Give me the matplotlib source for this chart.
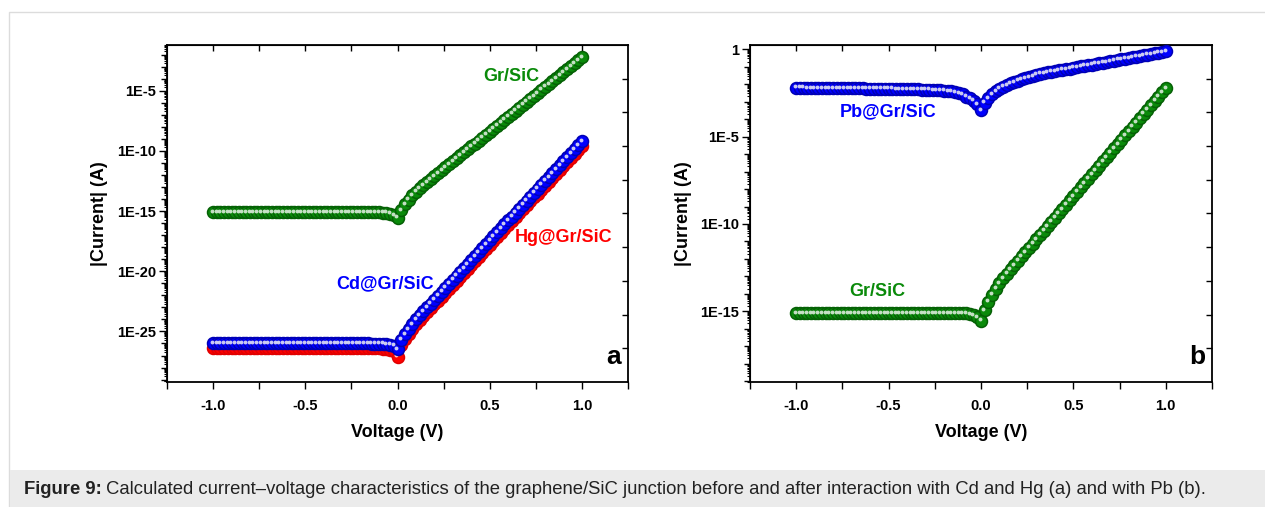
import numpy as np
import matplotlib.pyplot as plt
from matplotlib.ticker import FixedLocator, FuncFormatter, NullFormatter
from matplotlib.transforms import offset_copy
from matplotlib.patches import Rectangle

plt.rcParams['font.family'] = ['Liberation Sans', 'DejaVu Sans']
plt.rcParams['font.weight'] = 'bold'

# bias sweep, -1 V to 1 V in 0.02 V steps
voltage = np.linspace(-1.0, 1.0, 101)

# log10 |I| (A), reverse branch (-1.00 ... -0.02 V)
gr_sic_rev = [
    -15.10, -15.10, -15.10, -15.10, -15.10, -15.10, -15.10, -15.10, -15.10, -15.10,
    -15.10, -15.10, -15.10, -15.10, -15.10, -15.10, -15.10, -15.10, -15.10, -15.10,
    -15.10, -15.10, -15.10, -15.10, -15.10, -15.10, -15.10, -15.10, -15.10, -15.10,
    -15.10, -15.10, -15.10, -15.10, -15.10, -15.10, -15.10, -15.10, -15.10, -15.10,
    -15.10, -15.10, -15.10, -15.11, -15.11, -15.11, -15.12, -15.15, -15.22, -15.35,
]
cd_rev = [
    -26.00, -26.00, -26.00, -26.00, -26.00, -26.00, -26.00, -26.00, -26.00, -26.00,
    -26.00, -26.00, -26.00, -26.00, -26.00, -26.00, -26.00, -26.00, -26.00, -26.00,
    -26.00, -26.00, -26.00, -26.00, -26.00, -26.00, -26.00, -26.00, -26.00, -26.00,
    -26.00, -26.00, -26.00, -26.00, -26.00, -26.00, -26.00, -26.00, -26.00, -26.00,
    -26.00, -26.00, -26.00, -26.01, -26.01, -26.01, -26.02, -26.05, -26.10, -26.20,
]
hg_rev = [
    -26.40, -26.40, -26.40, -26.40, -26.40, -26.40, -26.40, -26.40, -26.40, -26.40,
    -26.40, -26.40, -26.40, -26.40, -26.40, -26.40, -26.40, -26.40, -26.40, -26.40,
    -26.40, -26.40, -26.40, -26.40, -26.40, -26.40, -26.40, -26.40, -26.40, -26.40,
    -26.40, -26.40, -26.40, -26.40, -26.40, -26.40, -26.40, -26.40, -26.40, -26.40,
    -26.40, -26.40, -26.40, -26.41, -26.41, -26.41, -26.42, -26.45, -26.52, -26.65,
]
pb_rev = [
    -2.20, -2.20, -2.20, -2.21, -2.21, -2.21, -2.21, -2.22, -2.22, -2.22,
    -2.22, -2.23, -2.23, -2.23, -2.23, -2.24, -2.24, -2.24, -2.24, -2.25,
    -2.25, -2.25, -2.25, -2.26, -2.26, -2.26, -2.26, -2.27, -2.27, -2.27,
    -2.28, -2.28, -2.29, -2.29, -2.30, -2.31, -2.32, -2.33, -2.34, -2.35,
    -2.37, -2.39, -2.41, -2.44, -2.50, -2.58, -2.70, -2.80, -2.95, -3.15,
]

# log10 |I| (A), forward branch (0.00 ... 1.00 V)
gr_sic_fwd = [
    -15.55, -14.95, -14.45, -14.05, -13.70, -13.40, -13.10, -12.85, -12.60, -12.36,
    -12.11, -11.86, -11.61, -11.37, -11.12, -10.87, -10.62, -10.38, -10.13, -9.88,
    -9.63, -9.39, -9.14, -8.89, -8.64, -8.40, -8.15, -7.90, -7.65, -7.41,
    -7.16, -6.91, -6.66, -6.42, -6.17, -5.92, -5.67, -5.43, -5.18, -4.93,
    -4.68, -4.44, -4.19, -3.94, -3.69, -3.45, -3.20, -2.95, -2.70, -2.46,
    -2.21,
]
cd_fwd = [
    -26.45, -25.70, -25.25, -24.80, -24.40, -24.00, -23.67, -23.34, -23.01, -22.68,
    -22.36, -22.03, -21.70, -21.37, -21.04, -20.71, -20.38, -20.05, -19.72, -19.39,
    -19.07, -18.74, -18.41, -18.08, -17.75, -17.42, -17.09, -16.76, -16.43, -16.10,
    -15.78, -15.45, -15.12, -14.79, -14.46, -14.13, -13.80, -13.47, -13.14, -12.81,
    -12.49, -12.16, -11.83, -11.50, -11.17, -10.84, -10.51, -10.18, -9.85, -9.52,
    -9.20,
]
hg_fwd = [
    -27.10, -26.10, -25.65, -25.20, -24.80, -24.40, -24.07, -23.74, -23.41, -23.08,
    -22.76, -22.43, -22.10, -21.77, -21.44, -21.11, -20.78, -20.45, -20.12, -19.79,
    -19.47, -19.14, -18.81, -18.48, -18.15, -17.82, -17.49, -17.16, -16.83, -16.50,
    -16.18, -15.85, -15.52, -15.19, -14.86, -14.53, -14.20, -13.87, -13.54, -13.21,
    -12.89, -12.56, -12.23, -11.90, -11.57, -11.24, -10.91, -10.58, -10.25, -9.92,
    -9.60,
]
pb_fwd = [
    -3.50, -3.05, -2.80, -2.58, -2.40, -2.26, -2.14, -2.04, -1.95, -1.87,
    -1.79, -1.72, -1.65, -1.58, -1.52, -1.46, -1.40, -1.36, -1.32, -1.28,
    -1.25, -1.21, -1.17, -1.13, -1.10, -1.06, -1.02, -0.98, -0.94, -0.91,
    -0.87, -0.83, -0.79, -0.76, -0.72, -0.68, -0.64, -0.60, -0.57, -0.53,
    -0.49, -0.45, -0.42, -0.38, -0.34, -0.30, -0.26, -0.23, -0.19, -0.15,
    -0.11,
]

gr_sic = 10.0 ** np.array(gr_sic_rev + gr_sic_fwd)
cd_gr_sic = 10.0 ** np.array(cd_rev + cd_fwd)
hg_gr_sic = 10.0 ** np.array(hg_rev + hg_fwd)
pb_gr_sic = 10.0 ** np.array(pb_rev + pb_fwd)

GREEN, GREEN_D, GREEN_H = '#0a8a0a', '#056005', '#cfe6cf'
BLUE, BLUE_D, BLUE_H = '#0000ff', '#0000b4', '#d6d6f4'
RED, RED_D, RED_H = '#ff0000', '#e00000', '#ffd8d8'

fig = plt.figure(figsize=(12.65, 5.07), dpi=100)

# page frame and caption strip
fig.patches.append(Rectangle((9 / 1265, -0.01), 1.0, 1 - 12 / 507 + 0.01,
                             transform=fig.transFigure, fill=False,
                             edgecolor='#dcdcdc', lw=1.0))
fig.patches.append(Rectangle((10 / 1265, 0.0), 1.0, 37 / 507,
                             transform=fig.transFigure, facecolor='#ebebeb',
                             edgecolor='none'))


def balls(ax, x, y, face, edge, shine, z):
    # sphere-like symbols: solid disc plus a small light spot
    ax.plot(x, y, ls='none', marker='o', ms=8.6, mfc=face, mec=edge, mew=1.1,
            zorder=z, clip_on=False)
    spot = offset_copy(ax.transData, fig=fig, x=-1.2, y=1.4, units='dots')
    ax.plot(x, y, ls='none', marker='o', ms=2.8, mfc=shine, mec='none',
            alpha=0.95, transform=spot, zorder=z + 0.5, clip_on=False)


def log_label(v, pos):
    e = int(round(np.log10(v)))
    return '1' if e == 0 else f'1E{e}'


def style_axes(ax, decades_lo, decades_hi, major_step):
    ax.set_yscale('log')
    ax.set_xlim(-1.25, 1.25)
    ax.set_ylim(10.0 ** decades_lo, 10.0 ** decades_hi)
    for s in ax.spines.values():
        s.set_linewidth(1.3)

    ax.xaxis.set_major_locator(FixedLocator([-1.0, -0.5, 0.0, 0.5, 1.0]))
    ax.xaxis.set_minor_locator(FixedLocator([-1.25, -0.75, -0.25, 0.25, 0.75, 1.25]))
    ax.xaxis.set_major_formatter(FuncFormatter(lambda v, p: f'{v:.1f}'))
    ax.tick_params(axis='x', which='major', direction='out', length=5, width=1.0,
                   labelsize=10.5, pad=7)
    ax.tick_params(axis='x', which='minor', direction='out', length=5, width=1.0)

    first = int(np.ceil(decades_lo))
    last = int(np.floor(decades_hi))
    majors = [10.0 ** e for e in range(first, last + 1) if e % major_step == 0]
    decades = [10.0 ** e for e in range(first, last + 1) if e % major_step != 0]
    subs = [m * 10.0 ** e for e in range(first - 1, last + 1) for m in range(2, 10)
            if 10.0 ** decades_lo < m * 10.0 ** e < 10.0 ** decades_hi]
    ax.yaxis.set_major_locator(FixedLocator(majors))
    ax.yaxis.set_minor_locator(FixedLocator(decades))
    ax.yaxis.set_major_formatter(FuncFormatter(log_label))
    ax.yaxis.set_minor_formatter(NullFormatter())
    ax.tick_params(axis='y', which='major', direction='out', length=6, width=1.0,
                   labelsize=10.5, pad=2)
    ax.tick_params(axis='y', which='minor', direction='out', length=4, width=1.0)

    # fine sub-decade comb on the left
    comb = ax.secondary_yaxis('left')
    comb.set_yticks(subs)
    comb.yaxis.set_major_formatter(NullFormatter())
    comb.yaxis.set_minor_locator(FixedLocator([]))
    comb.tick_params(axis='y', which='major', direction='out', length=2.2, width=0.8)

    # inward ticks on the top and right edges
    top = ax.secondary_xaxis('top')
    top.set_xticks([-1.0, -0.75, -0.5, -0.25, 0.0, 0.25, 0.5, 0.75, 1.0])
    top.xaxis.set_major_formatter(NullFormatter())
    top.tick_params(axis='x', direction='in', length=4, width=1.0)

    right = ax.twinx()
    right.set_ylim(0, 10)
    right.set_yticks(range(1, 10))
    right.tick_params(axis='y', direction='in', length=4, width=1.0, labelright=False)
    for s in right.spines.values():
        s.set_visible(False)

    ax.set_xlabel('Voltage (V)', fontsize=13, fontweight='bold', labelpad=8)
    ax.set_ylabel('|Current| (A)', fontsize=13, fontweight='bold', labelpad=6)


# panel a: bare junction with Cd and Hg
ax_a = fig.add_axes([167 / 1265, 1 - 382 / 507, 461 / 1265, 337 / 507])
style_axes(ax_a, -29.2, -1.2, 5)
balls(ax_a, voltage, gr_sic, GREEN, GREEN_D, GREEN_H, 3)
balls(ax_a, voltage, hg_gr_sic, RED, RED_D, RED_H, 4)
balls(ax_a, voltage, cd_gr_sic, BLUE, BLUE_D, BLUE_H, 5)
ax_a.text(0.615, 10 ** -3.85, 'Gr/SiC', color=GREEN, fontsize=13, fontweight='bold',
          ha='center', va='center')
ax_a.text(0.90, 10 ** -17.2, 'Hg@Gr/SiC', color=RED, fontsize=13, fontweight='bold',
          ha='center', va='center')
ax_a.text(-0.07, 10 ** -21.0, 'Cd@Gr/SiC', color=BLUE, fontsize=13, fontweight='bold',
          ha='center', va='center')
ax_a.text(0.985, 0.04, 'a', transform=ax_a.transAxes, fontsize=19,
          fontweight='bold', ha='right', va='bottom')

# panel b: bare junction with Pb
ax_b = fig.add_axes([750 / 1265, 1 - 382 / 507, 462 / 1265, 337 / 507])
style_axes(ax_b, -19.05, 0.25, 5)
balls(ax_b, voltage, gr_sic, GREEN, GREEN_D, GREEN_H, 3)
balls(ax_b, voltage, pb_gr_sic, BLUE, BLUE_D, BLUE_H, 4)
ax_b.text(-0.50, 10 ** -3.6, 'Pb@Gr/SiC', color=BLUE, fontsize=13, fontweight='bold',
          ha='center', va='center')
ax_b.text(-0.56, 10 ** -13.85, 'Gr/SiC', color=GREEN, fontsize=13, fontweight='bold',
          ha='center', va='center')
ax_b.text(0.985, 0.04, 'b', transform=ax_b.transAxes, fontsize=19,
          fontweight='bold', ha='right', va='bottom')

# caption
cap_y = 1 - 490 / 507
head = fig.text(24 / 1265, cap_y, 'Figure 9:', fontsize=13.3, fontweight='bold',
                va='center', color='#222222')
fig.canvas.draw()
bb = head.get_window_extent()
fig.text(bb.x1 / 1265 + 4 / 1265, cap_y,
         'Calculated current\u2013voltage characteristics of the graphene/SiC junction '
         'before and after interaction with Cd and Hg (a) and with Pb (b).',
         fontsize=13.3, fontweight='normal', va='center', color='#222222')

fig.savefig('out.png', dpi=100)
